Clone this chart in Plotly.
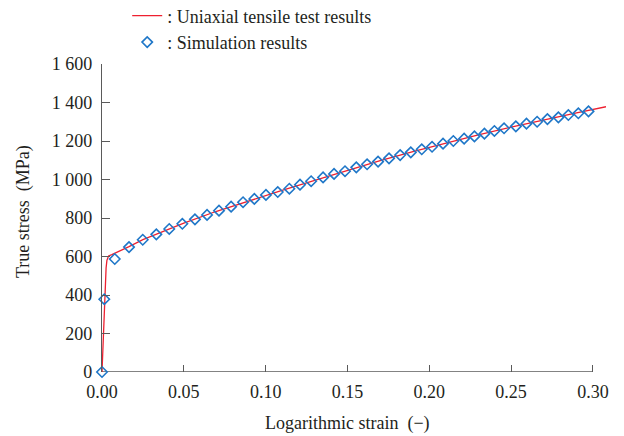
import plotly.graph_objects as go

# Uniaxial tensile test curve (red line)
strain_test = [0.0, 0.0005, 0.001, 0.0015, 0.002, 0.0025, 0.003, 0.0035, 0.004, 0.006,
               0.008, 0.012, 0.0165, 0.025, 0.035, 0.05, 0.07, 0.09, 0.11, 0.13, 0.15,
               0.17, 0.19, 0.21, 0.23, 0.25, 0.27, 0.29, 0.308]
stress_test = [0, 120, 260, 380, 470, 540, 580, 597, 603, 610,
               617, 633, 651, 688, 722, 773, 835, 891, 943, 996, 1048,
               1098, 1145, 1190, 1232, 1272, 1310, 1346, 1378]

# Simulation results (blue diamonds)
strain_sim = [0.0, 0.0014, 0.0078, 0.0165, 0.0249, 0.0332, 0.0411, 0.0491, 0.0568, 0.0642,
              0.0715, 0.0789, 0.0862, 0.0931, 0.1002, 0.1074, 0.1145, 0.1210, 0.1278, 0.1351,
              0.1418, 0.1485, 0.1554, 0.1620, 0.1687, 0.1754, 0.1822, 0.1887, 0.1954, 0.2017,
              0.2084, 0.2147, 0.2213, 0.2276, 0.2337, 0.2398, 0.2457, 0.2529, 0.2594, 0.2659,
              0.2722, 0.2789, 0.2850, 0.2911, 0.2973]
stress_sim = [0, 378, 587, 649, 687, 715, 743, 770, 793, 816,
              838, 859, 882, 899, 920, 935, 952, 973, 991, 1011,
              1029, 1043, 1063, 1079, 1093, 1110, 1127, 1141, 1157, 1170,
              1186, 1200, 1212, 1224, 1238, 1252, 1266, 1276, 1290, 1300,
              1314, 1323, 1335, 1344, 1354]

x_tickvals = [0.00, 0.05, 0.10, 0.15, 0.20, 0.25, 0.30]
x_ticktext = ["0.00", "0.05", "0.10", "0.15", "0.20", "0.25", "0.30"]
y_tickvals = [0, 200, 400, 600, 800, 1000, 1200, 1400, 1600]
y_ticktext = ["0", "200", "400", "600", "800", "1 000", "1 200", "1 400", "1 600"]

FONT = "Liberation Serif"
FS = 18
AXC = "#5a5a5a"
TXT = "#231f20"

fig = go.Figure()
fig.add_trace(go.Scatter(
    x=strain_test, y=stress_test, mode="lines",
    line=dict(color="#ee2030", width=1.3),
    name=": Uniaxial tensile test results", cliponaxis=False))
fig.add_trace(go.Scatter(
    x=strain_sim, y=stress_sim, mode="markers",
    marker=dict(symbol="diamond-open", size=8, color="#1f77c8", line=dict(width=1.6, color="#1f77c8")),
    name=": Simulation results", cliponaxis=False))

# The page body has an 8 px margin, so the figure is sized/offset accordingly.
fig.update_layout(
    width=616, height=428,
    margin=dict(l=94, r=18, t=56, b=64, autoexpand=False),
    paper_bgcolor="white", plot_bgcolor="white",
    font=dict(family=FONT, size=FS, color=TXT),
    showlegend=True,
    legend=dict(x=0.05, y=1.216, xanchor="left", yanchor="top",
                bgcolor="rgba(0,0,0,0)", font=dict(size=FS, family=FONT, color=TXT),
                tracegroupgap=0, itemwidth=30),
    xaxis=dict(range=[0, 0.308], tickvals=x_tickvals, ticktext=x_ticktext,
               ticks="inside", ticklen=7, tickcolor=AXC, tickwidth=1,
               showline=False, showgrid=False, zeroline=False, ticklabelstandoff=7,
               tickfont=dict(family=FONT, size=FS, color=TXT)),
    yaxis=dict(range=[0, 1600], tickvals=y_tickvals, ticktext=y_ticktext,
               ticks="inside", ticklen=8, tickcolor=AXC, tickwidth=1,
               showline=True, linecolor=AXC, linewidth=1.3, ticklabelstandoff=5,
               showgrid=False, zeroline=False,
               tickfont=dict(family=FONT, size=FS, color=TXT)),
    shapes=[dict(type="line", xref="x", yref="y", x0=0, x1=0.30, y0=0, y1=0,
                 line=dict(color=AXC, width=1.3), layer="below")],
    annotations=[
        dict(text="Logarithmic strain  (\u2212)", xref="x", yref="paper", x=0.15, y=0,
             yanchor="middle", xanchor="center",
             yshift=-51, showarrow=False, font=dict(family=FONT, size=FS, color=TXT)),
        dict(text="True stress  (MPa)", xref="paper", yref="paper", x=0, y=0.5,
             xanchor="center", yanchor="middle",
             xshift=-79, yshift=6, textangle=-90, showarrow=False,
             font=dict(family=FONT, size=FS, color=TXT)),
    ],
)

fig.write_html("out.html")
